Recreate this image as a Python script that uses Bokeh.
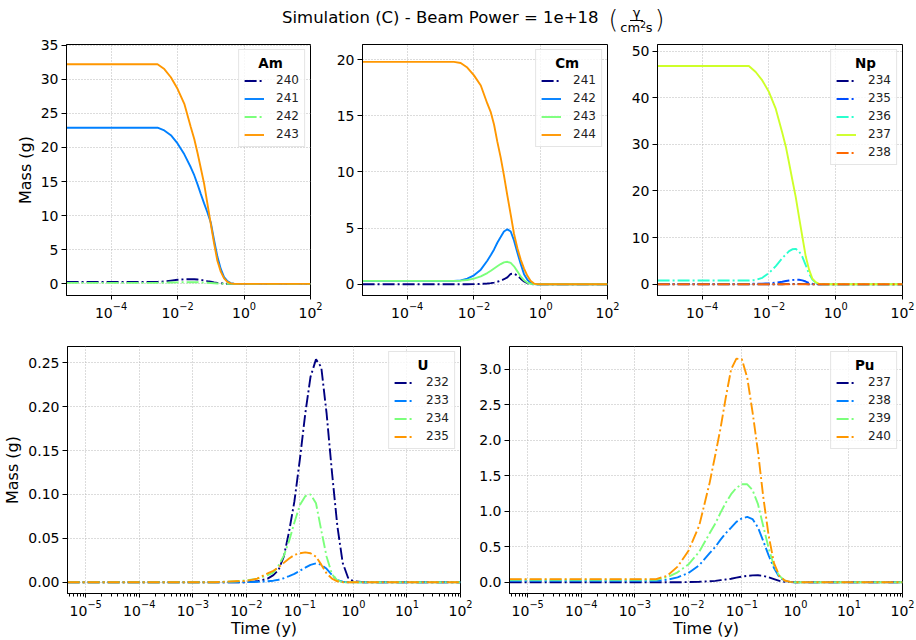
from bokeh.plotting import figure
from bokeh.models import FixedTicker, NumeralTickFormatter, Div, Range1d
from bokeh.layouts import column, row
from bokeh.embed import file_html
from bokeh.resources import INLINE

# ---------------- data ----------------
time_y = [4.6e-6, 2.5e-3, 4.0e-3, 6.3e-3, 1.0e-2, 1.6e-2, 2.5e-2, 3.2e-2, 4.0e-2,
          5.0e-2, 6.3e-2, 7.9e-2, 0.10, 0.126, 0.158, 0.20, 0.251, 0.316, 0.398,
          0.501, 0.631, 0.794, 1.0, 1.58, 10.0, 100.0]

am_labels = ["240", "241", "242", "243"]
am_240 = [0.30, 0.30, 0.36, 0.48, 0.60, 0.68, 0.70, 0.68, 0.64, 0.58, 0.50, 0.41, 0.32,
          0.23, 0.15, 0.09, 0.05, 0.02, 0.01, 0, 0, 0, 0, 0, 0, 0]
am_241 = [22.9, 22.9, 22.5, 21.8, 20.6, 19.0, 17.1, 15.9, 14.6, 13.2, 11.8, 10.5, 9.0,
          6.4, 4.0, 2.2, 1.0, 0.4, 0.12, 0.03, 0.01, 0, 0, 0, 0, 0]
am_242 = [0.15, 0.15, 0.17, 0.20, 0.23, 0.25, 0.26, 0.25, 0.24, 0.22, 0.19, 0.16, 0.13,
          0.10, 0.07, 0.04, 0.02, 0.01, 0, 0, 0, 0, 0, 0, 0, 0]
am_243 = [32.2, 32.2, 31.5, 30.3, 28.6, 26.4, 23.0, 21.2, 19.2, 17.0, 14.7, 11.8, 8.8,
          5.9, 3.4, 1.8, 0.8, 0.3, 0.08, 0.02, 0, 0, 0, 0, 0, 0]

cm_labels = ["241", "242", "243", "244"]
cm_241 = [0, 0, 0, 0, 0.01, 0.03, 0.07, 0.10, 0.15, 0.22, 0.32, 0.45, 0.62,
          0.92, 0.95, 0.78, 0.50, 0.25, 0.09, 0.02, 0, 0, 0, 0, 0, 0]
cm_242 = [0.3, 0.3, 0.35, 0.5, 0.8, 1.3, 2.1, 2.6, 3.1, 3.7, 4.2, 4.7, 4.9,
          4.7, 3.9, 2.8, 1.8, 0.9, 0.4, 0.12, 0.03, 0, 0, 0, 0, 0]
cm_243 = [0.3, 0.3, 0.32, 0.38, 0.5, 0.7, 1.0, 1.2, 1.4, 1.6, 1.8, 1.95, 2.0,
          1.9, 1.6, 1.15, 0.7, 0.35, 0.13, 0.04, 0.01, 0, 0, 0, 0, 0]
cm_244 = [19.8, 19.8, 19.7, 19.3, 18.6, 17.7, 16.1, 15.3, 14.2, 12.7, 11.3, 9.7, 7.9,
          6.2, 4.5, 3.2, 2.2, 1.4, 0.75, 0.3, 0.06, 0.01, 0, 0, 0, 0]

np_labels = ["234", "235", "236", "237", "238"]
np_234 = [0, 0, 0, 0, 0, 0.01, 0.02, 0.03, 0.04, 0.05, 0.05, 0.05, 0.04,
          0.03, 0.02, 0.01, 0, 0, 0, 0, 0, 0, 0, 0, 0, 0]
np_235 = [0.1, 0.1, 0.11, 0.15, 0.22, 0.35, 0.55, 0.7, 0.82, 0.92, 0.98, 0.97, 0.85,
          0.6, 0.3, 0.12, 0.04, 0.01, 0, 0, 0, 0, 0, 0, 0, 0]
np_236 = [0.8, 0.8, 0.9, 1.4, 2.4, 3.9, 5.6, 6.4, 7.1, 7.5, 7.6, 7.1, 5.9,
          4.1, 2.3, 1.0, 0.35, 0.08, 0.01, 0, 0, 0, 0, 0, 0, 0]
np_237 = [46.8, 46.8, 45.5, 43.7, 41.2, 37.6, 32.5, 29.5, 26.0, 22.4, 18.8, 14.5, 10.2,
          6.0, 3.2, 1.2, 0.45, 0.1, 0.02, 0, 0, 0, 0, 0, 0, 0]
np_238 = [0, 0, 0, 0, 0, 0, 0.01, 0.01, 0.02, 0.02, 0.02, 0.02, 0.02,
          0.01, 0.01, 0, 0, 0, 0, 0, 0, 0, 0, 0, 0, 0]

u_labels = ["232", "233", "234", "235"]
u_232 = [0, 0, 0, 0, 0, 0.001, 0.004, 0.008, 0.014, 0.029, 0.058, 0.092, 0.140,
         0.192, 0.234, 0.254, 0.245, 0.192, 0.125, 0.064, 0.022, 0.005, 0.001, 0, 0, 0]
u_233 = [0, 0, 0, 0, 0, 0.0003, 0.001, 0.0017, 0.0028, 0.0045, 0.007, 0.0095, 0.013,
         0.0165, 0.0198, 0.0214, 0.020, 0.0152, 0.0082, 0.0025, 0.0005, 0, 0, 0, 0, 0]
u_234 = [0, 0, 0.0005, 0.001, 0.002, 0.004, 0.008, 0.011, 0.019, 0.030, 0.047, 0.068, 0.088,
         0.098, 0.100, 0.090, 0.059, 0.029, 0.009, 0.002, 0, 0, 0, 0, 0, 0]
u_235 = [0, 0, 0.0005, 0.001, 0.0015, 0.004, 0.010, 0.013, 0.017, 0.022, 0.027, 0.031, 0.033,
         0.034, 0.033, 0.029, 0.020, 0.010, 0.004, 0.001, 0, 0, 0, 0, 0, 0]

pu_labels = ["237", "238", "239", "240"]
pu_237 = [0, 0, 0, 0, 0.003, 0.008, 0.015, 0.02, 0.03, 0.04, 0.05, 0.065, 0.08,
          0.09, 0.097, 0.098, 0.09, 0.07, 0.045, 0.02, 0.007, 0.002, 0, 0, 0, 0]
pu_238 = [0.02, 0.02, 0.035, 0.07, 0.13, 0.24, 0.41, 0.5, 0.6, 0.69, 0.77, 0.85, 0.9,
          0.92, 0.89, 0.77, 0.58, 0.38, 0.2, 0.07, 0.02, 0.005, 0, 0, 0, 0]
pu_239 = [0.035, 0.035, 0.07, 0.14, 0.25, 0.43, 0.69, 0.83, 0.98, 1.12, 1.24, 1.33, 1.38,
          1.38, 1.3, 1.1, 0.79, 0.48, 0.23, 0.09, 0.025, 0.005, 0, 0, 0, 0]
pu_240 = [0.045, 0.045, 0.09, 0.22, 0.44, 0.8, 1.4, 1.8, 2.17, 2.6, 3.0, 3.15, 3.14,
          2.88, 2.4, 1.84, 1.2, 0.66, 0.27, 0.09, 0.025, 0.005, 0, 0, 0, 0]

top_xticks = [1e-4, 1e-2, 1e0, 1e2]
bottom_xticks = [1e-5, 1e-4, 1e-3, 1e-2, 1e-1, 1e0, 1e1, 1e2]

# ---------------- styling ----------------
FONT = "DejaVu Sans"
DASHDOT = "12 3 2 3"
JET4 = ["#000080", "#0080ff", "#7bff7b", "#ff9700"]
JET5 = ["#000080", "#004cff", "#29ffce", "#ceff29", "#ff6800"]
XMIN, XMAX = 10 ** -5.34, 100.0
NB = "\u00a0"


def panel(w, h, borders, yr, yticks, yfmt, xticks, xminor, title, title_pad, labels,
          series, colors, dashes, ylabel=None, xlabel=None):
    bl, br, bt, bb = borders
    p = figure(width=w, height=h, x_axis_type="log",
               x_range=Range1d(XMIN, XMAX), y_range=Range1d(*yr),
               output_backend="svg", toolbar_location=None,
               min_border_left=bl, min_border_right=br,
               min_border_top=bt, min_border_bottom=bb,
               background_fill_color="white", border_fill_color="white")
    p.outline_line_color = "black"
    p.outline_line_alpha = 1.0
    p.outline_line_width = 1
    for lab, ys, c, d in zip(labels, series, colors, dashes):
        p.line(time_y, ys, line_color=c, line_width=1.9, line_dash=d,
               legend_label=lab)
    p.xaxis.ticker = FixedTicker(ticks=xticks, minor_ticks=xminor)
    p.yaxis.ticker = FixedTicker(ticks=yticks)
    p.yaxis.formatter = NumeralTickFormatter(format=yfmt)
    for ax in (p.xaxis, p.yaxis):
        ax.axis_line_color = "black"
        ax.major_tick_line_color = "black"
        ax.major_tick_out = 5
        ax.major_tick_in = 0
        ax.minor_tick_line_color = "black"
        ax.minor_tick_out = 3
        ax.minor_tick_in = 0
        ax.major_label_text_font = FONT
        ax.major_label_text_font_size = "14px"
        ax.major_label_text_color = "black"
        ax.major_label_standoff = 3
        ax.axis_label_text_font = FONT
        ax.axis_label_text_font_size = "16px"
        ax.axis_label_text_font_style = "normal"
        ax.axis_label_text_color = "black"
        ax.axis_label_standoff = 3
    p.xaxis.major_tick_out = 4
    p.xaxis.major_label_standoff = 2
    p.xaxis.axis_label_standoff = 0
    p.yaxis.minor_tick_line_color = None
    if not xminor:
        p.xaxis.minor_tick_line_color = None
    if ylabel:
        p.yaxis.axis_label = ylabel
    if xlabel:
        p.xaxis.axis_label = xlabel
    for g in (p.xgrid, p.ygrid):
        g.grid_line_color = "#b8b8b8"
        g.grid_line_dash = "1 2"
        g.grid_line_width = 1
    lg = p.legend[0]
    lg.location = "top_right"
    lg.title = NB * title_pad + title
    lg.title_text_font = FONT
    lg.title_text_font_style = "bold"
    lg.title_text_font_size = "13.5px"
    lg.title_text_color = "black"
    lg.title_standoff = 2
    lg.label_text_font = FONT
    lg.label_text_font_size = "12px"
    lg.label_text_color = "#222222"
    lg.label_height = 13
    lg.glyph_height = 13
    lg.glyph_width = 20
    lg.label_standoff = 12
    lg.spacing = 4
    lg.padding = 5
    lg.margin = 5
    lg.border_line_color = "#cccccc"
    lg.border_line_width = 1
    lg.background_fill_color = "white"
    lg.background_fill_alpha = 0.8
    return p


minor_b = [k * 10.0 ** e for e in range(-6, 2) for k in range(2, 10)]

TOP_H = 289
BOT_H = 315

p_am = panel(332, TOP_H, (66, 22, 8, 30), (-1.7, 35.1), [0, 5, 10, 15, 20, 25, 30, 35], "0",
             top_xticks, [], "Am", 3, am_labels, [am_240, am_241, am_242, am_243],
             JET4, [DASHDOT, "solid", DASHDOT, "solid"], ylabel="Mass (g)")
p_cm = panel(295, TOP_H, (30, 20, 8, 30), (-1.0, 21.35), [0, 5, 10, 15, 20], "0",
             top_xticks, [], "Cm", 3, cm_labels, [cm_241, cm_242, cm_243, cm_244],
             JET4, [DASHDOT, "solid", "solid", "solid"])
p_np = panel(289, TOP_H, (30, 14, 8, 30), (-2.4, 51.4), [0, 10, 20, 30, 40, 50], "0",
             top_xticks, [], "Np", 4, np_labels, [np_234, np_235, np_236, np_237, np_238],
             JET5, [DASHDOT, DASHDOT, DASHDOT, "solid", DASHDOT])
p_u = panel(473, BOT_H, (66, 13, 21, 43), (-0.0129, 0.2686),
            [0, 0.05, 0.10, 0.15, 0.20, 0.25], "0.00",
            bottom_xticks, minor_b, "U", 5, u_labels, [u_232, u_233, u_234, u_235],
            JET4, [DASHDOT] * 4, ylabel="Mass (g)", xlabel="Time (y)")
p_pu = panel(443, BOT_H, (36, 14, 21, 43), (-0.158, 3.32),
             [0, 0.5, 1.0, 1.5, 2.0, 2.5, 3.0], "0.0",
             bottom_xticks, minor_b, "Pu", 4, pu_labels, [pu_237, pu_238, pu_239, pu_240],
             JET4, [DASHDOT] * 4, xlabel="Time (y)")

title_html = (
    '<div style="font-family:\'DejaVu Sans\';font-size:16.5px;color:#000;white-space:nowrap;'
    'padding-left:282px;height:36px;display:flex;align-items:center;">'
    '<span>Simulation (C) - Beam Power = 1e+18</span>'
    '<span style="font-size:25px;font-weight:200;margin-left:10px;position:relative;top:2px;">(</span>'
    '<span style="display:inline-flex;flex-direction:column;align-items:center;'
    'font-size:13px;line-height:12px;margin:0 2px;position:relative;top:3px;">'
    '<span style="border-bottom:1px solid #000;padding:0 3px 1px 3px;">γ</span>'
    '<span style="padding-top:1px;">cm<span style="font-size:9px;position:relative;top:-4px;">2</span>s</span>'
    '</span>'
    '<span style="font-size:25px;font-weight:200;position:relative;top:2px;">)</span></div>'
)
title = Div(text=title_html, width=916, height=36, margin=(0, 0, 0, 0))

layout = column(title, row(p_am, p_cm, p_np), row(p_u, p_pu))

open("out.html", "w").write(file_html(layout, INLINE))
